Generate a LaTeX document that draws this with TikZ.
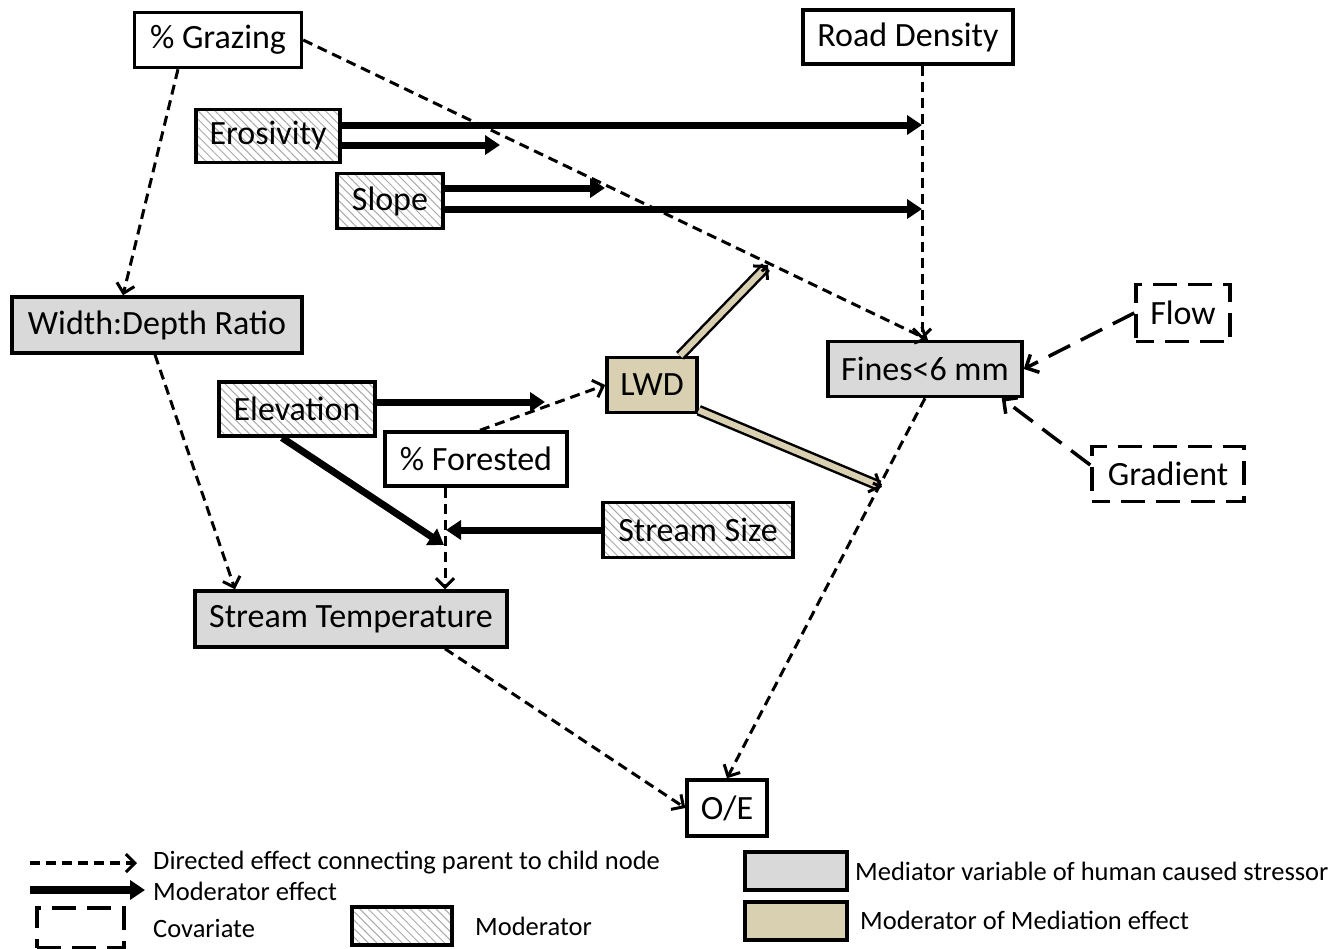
\documentclass[tikz,border=0pt]{standalone}
\usepackage{fontspec}
\setmainfont{Carlito}
\usetikzlibrary{arrows.meta,patterns.meta,calc}

\definecolor{medgray}{RGB}{217,217,217}
\definecolor{tanfill}{RGB}{216,208,176}
\definecolor{hatchgray}{RGB}{170,170,170}

\begin{document}
\begin{tikzpicture}[x=1pt,y=-1pt,
  box/.style={draw=black, line width=3.5pt, inner sep=0pt,
    font=\fontsize{34}{40}\selectfont},
  plainbox/.style={box, fill=white},
  mediator/.style={box, fill=medgray},
  medmod/.style={box, fill=tanfill},
  moder/.style={box, pattern={Lines[angle=-45,distance=6pt,line width=1pt]},
    pattern color=hatchgray},
  covbox/.style={box, dash pattern=on 24pt off 11pt, dash phase=6pt, line width=3.5pt},
  legtext/.style={anchor=west, inner sep=0pt, font=\fontsize{26.5}{30}\selectfont},
  dep/.style={line width=3pt, dash pattern=on 10pt off 6pt,
    -{Straight Barb[length=9pt,width=18pt,line width=3pt]}},
  modr/.style={line width=7pt, -{Triangle[length=15pt,width=19pt]}},
  cov/.style={line width=3.5pt, dash pattern=on 24pt off 12pt,
    -{Straight Barb[length=10pt,width=20pt,line width=3.5pt]}},
  medarrow/.style={draw=black, line width=2.5pt, double=tanfill, double distance=6pt},
  medtip/.style={line width=3pt, -{Straight Barb[length=9pt,width=20pt,line width=3pt]}}
]
\useasboundingbox (0,0) rectangle (1337,948);
\fill[white] (0,0) rectangle (1337,948);

% ---- variables ----
\node[plainbox, minimum width=167pt, minimum height=55pt] (graz) at (218,40) {\% Grazing};
\node[plainbox, minimum width=210pt, minimum height=54pt] (road) at (908,37) {Road Density};
\node[moder, minimum width=144pt, minimum height=53pt] (eros) at (268,136) {Erosivity};
\node[moder, minimum width=106pt, minimum height=55pt] (slope) at (390,201) {Slope};
\node[mediator, minimum width=290pt, minimum height=56pt] (wd) at (157,325) {Width:Depth Ratio};
\node[medmod, minimum width=90pt, minimum height=55pt] (lwd) at (652,385) {LWD};
\node[mediator, minimum width=194pt, minimum height=55pt] (fines) at (925,369) {Fines<6 mm};
\node[covbox, minimum width=94pt, minimum height=57pt] (flow) at (1183,313) {Flow};
\node[covbox, minimum width=152pt, minimum height=55pt] (grad) at (1168,474) {Gradient};
\node[moder, minimum width=156pt, minimum height=54pt] (elev) at (297,409) {Elevation};
\node[plainbox, minimum width=182pt, minimum height=54pt] (forest) at (476,459) {\% Forested};
\node[moder, minimum width=190pt, minimum height=55pt] (ssize) at (698,530) {Stream Size};
\node[mediator, minimum width=312pt, minimum height=56pt] (stemp) at (351,619) {Stream Temperature};
\node[plainbox, minimum width=80pt, minimum height=56pt] (oe) at (727,808) {O/E};

% ---- points where moderator effects meet directed effects ----
\coordinate (rdA) at (922,125);
\coordinate (rdB) at (922,209);
\coordinate (gA) at (500,145);
\coordinate (gB) at (605,188);
\coordinate (gC) at (768,265);
\coordinate (foA) at (882,487);
\coordinate (flA) at (545,402);
\coordinate (fsA) at (444,545);
\coordinate (fsB) at (446,530);

% ---- directed effects ----
\draw[dep] ([xshift=-40pt]graz.south) -- ([xshift=-34pt]wd.north);
\draw[dep] (graz.east) -- ([xshift=3pt]fines.north);
\draw[dep] ([xshift=14pt]road.south) -- ([xshift=-3pt]fines.north);
\draw[dep] ([xshift=4pt]forest.north) -- (lwd.west);
\draw[dep] ([xshift=-31pt]forest.south) -- ([xshift=94pt]stemp.north);
\draw[dep] ([xshift=-2pt]wd.south) -- ([xshift=-116pt]stemp.north);
\draw[dep] ([xshift=94pt]stemp.south) -- (oe.west);
\draw[dep] (fines.south) -- (oe.north);

% ---- covariates ----
\draw[cov] (flow.west) -- (fines.east);
\draw[cov] ([yshift=9pt]grad.west) -- ([xshift=-22pt]fines.south east);

% ---- moderator effects ----
\draw[modr] ([yshift=11pt]eros.east) -- (rdA);
\draw[modr] ([yshift=-9pt]eros.east) -- (gA);
\draw[modr] ([yshift=13pt]slope.east) -- (gB);
\draw[modr] ([yshift=-8pt]slope.east) -- (rdB);
\draw[modr] ([yshift=7pt]elev.east) -- (flA);
\draw[modr] ([xshift=-15pt]elev.south) -- (fsA);
\draw[modr] (ssize.west) -- (fsB);

% ---- moderators of mediation ----
\draw[medarrow, shorten >=3pt] ([xshift=28pt]lwd.north) -- (gC);
\draw[medtip] ($([xshift=28pt]lwd.north)!0.93!(gC)$) -- (gC);
\draw[medarrow, shorten >=3pt] ([yshift=4pt]lwd.south east) -- (foA);
\draw[medtip] ($([yshift=4pt]lwd.south east)!0.95!(foA)$) -- (foA);

% ---- legend ----
\coordinate (lgA) at (30,863);
\coordinate (lgB) at (137,863);
\coordinate (lgC) at (30,890);
\coordinate (lgD) at (145,890);
\draw[dep, line width=3.5pt] (lgA) -- (lgB);
\node[legtext] (lgAt) at (153,863) {Directed effect connecting parent to child node};
\draw[modr, line width=8pt] (lgC) -- (lgD);
\node[legtext] (lgCt) at (153,891) {Moderator effect};
\node[covbox, minimum width=87pt, minimum height=40pt, dash phase=0pt] (lgcov) at (80.5,928) {};
\node[legtext] (lgcovt) at (153,928) {Covariate};
\node[moder, minimum width=100pt, minimum height=38pt] (lgmod) at (402,926) {};
\node[legtext] (lgmodt) at (475,926) {Moderator};
\node[mediator, minimum width=102pt, minimum height=38pt] (lgmed) at (796,871) {};
\node[legtext] (lgmedt) at (855,871) {Mediator variable of human caused stressor};
\node[medmod, minimum width=102pt, minimum height=38pt] (lgmm) at (796,921) {};
\node[legtext] (lgmmt) at (860,920) {Moderator of Mediation effect};
\end{tikzpicture}
\end{document}
